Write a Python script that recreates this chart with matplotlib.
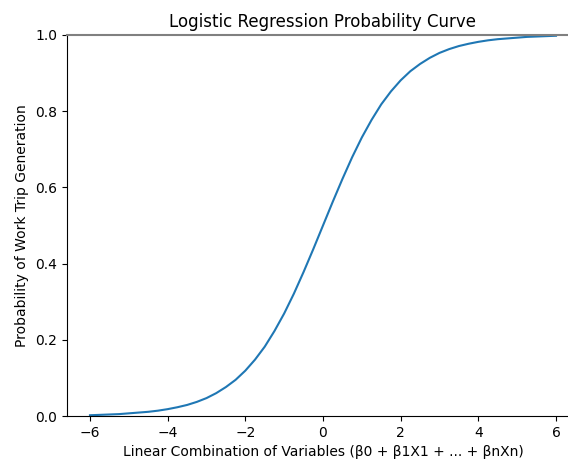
import matplotlib.pyplot as plt
import numpy as np

# Values (linear combination -> probability)
z_values = [-6.0, -5.75, -5.5, -5.25, -5.0, -4.75, -4.5, -4.25, -4.0, -3.75,
            -3.5, -3.25, -3.0, -2.75, -2.5, -2.25, -2.0, -1.75, -1.5, -1.25,
            -1.0, -0.75, -0.5, -0.25, 0.0, 0.25, 0.5, 0.75, 1.0, 1.25, 1.5,
            1.75, 2.0, 2.25, 2.5, 2.75, 3.0, 3.25, 3.5, 3.75, 4.0, 4.25, 4.5,
            4.75, 5.0, 5.25, 5.5, 5.75, 6.0]
prob_values = [0.002, 0.003, 0.004, 0.005, 0.007, 0.009, 0.011, 0.014, 0.018,
               0.023, 0.029, 0.037, 0.047, 0.060, 0.076, 0.095, 0.119, 0.148,
               0.182, 0.223, 0.269, 0.321, 0.378, 0.438, 0.500, 0.562, 0.622,
               0.679, 0.731, 0.777, 0.818, 0.852, 0.881, 0.905, 0.924, 0.940,
               0.953, 0.963, 0.971, 0.977, 0.982, 0.986, 0.989, 0.991, 0.993,
               0.995, 0.996, 0.997, 0.998]

fig = plt.figure(figsize=(5.68, 4.61), dpi=100)
ax = fig.add_axes([0.1174, 0.0976, 0.9025, 0.8265])

ax.plot(z_values, prob_values, color='#1f77b4', linewidth=1.5)
ax.axhline(1.0, color='gray', linewidth=1.5, zorder=3, clip_on=False)
ax.spines['top'].set_visible(False)

ax.set_ylim(0, 1)
ax.set_xlim(-6.6, 6.6)
ax.set_xlabel('Linear Combination of Variables (β0 + β1X1 + ... + βnXn)')
ax.set_ylabel('Probability of Work Trip Generation')
ax.set_title('Logistic Regression Probability Curve', fontsize=12)

plt.savefig('out.png', dpi=100)
